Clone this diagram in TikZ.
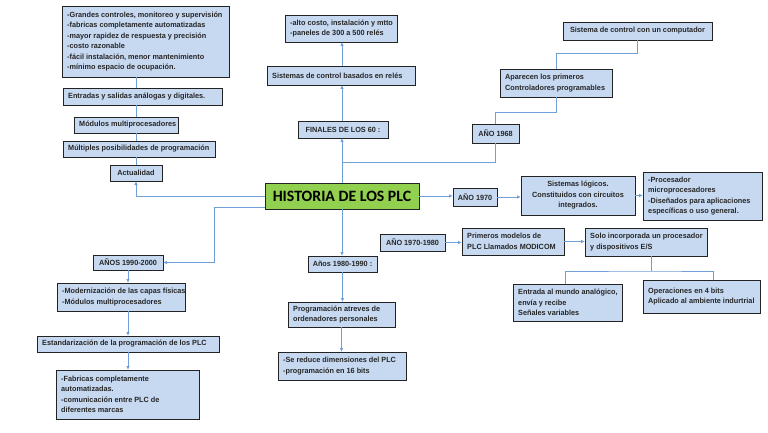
\documentclass[tikz,border=0pt]{standalone}
\usepackage{fontspec}
\setmainfont{Liberation Sans}[FakeStretch=0.97]
\newfontfamily\titlefont{Carlito}
\usetikzlibrary{arrows.meta}
\definecolor{boxfill}{RGB}{198,217,241}
\definecolor{boxline}{RGB}{35,35,35}
\definecolor{greenfill}{RGB}{146,208,80}
\definecolor{conn}{RGB}{112,160,215}
\tikzset{
 box/.style={draw=boxline, fill=boxfill, line width=0.9pt, inner sep=0pt, outer sep=0pt},
 txt/.style={font=\bfseries\fontsize{7.5}{10.5}\selectfont, inner sep=0pt, text=black!85},
 link/.style={draw=conn, line width=0.8pt},
 arr/.style={link, -{Latex[length=4pt,width=3.5pt]}},
}
\newcommand\mkbox[5]{\node[box,minimum width={#4-#2},minimum height={#5-#3}] (#1) at ({(#2+#4)/2},{(#3+#5)/2}) {};}
\newcommand\ltext[2]{\node[txt,anchor=west,align=left] (#1t) at ([xshift=5pt]#1.west) {#2};}
\newcommand\ctext[2]{\node[txt,align=center] (#1t) at (#1.center) {#2};}
\begin{document}
\begin{tikzpicture}[x=1pt,y=-1pt]
\fill[white] (0,0) rectangle (768,433);
\useasboundingbox (0,0) rectangle (768,433);
% left column
\mkbox{b1}{62}{6}{229}{77}
\ltext{b1}{-Grandes controles, monitoreo y supervisión\\-fabricas completamente automatizadas\\-mayor rapidez de respuesta y precisión\\-costo razonable\\-fácil instalación, menor mantenimiento\\-mínimo espacio de ocupación.}
\mkbox{ent}{63}{88}{222}{105}
\ltext{ent}{Entradas y salidas análogas y digitales.}
\mkbox{mod}{74}{117}{178}{133}
\ltext{mod}{Módulos multiprocesadores}
\mkbox{mult}{63}{141}{215}{157}
\ltext{mult}{Múltiples posibilidades de programación}
\mkbox{act}{110}{165}{162}{181}
\ctext{act}{Actualidad}
\mkbox{a90}{93}{255}{163}{270}
\ctext{a90}{AÑOS 1990-2000}
\mkbox{modz}{57}{283}{185}{311}
\ltext{modz}{-Modernización de las capas físicas\\-Módulos multiprocesadores}
\mkbox{est}{37}{336}{219}{352}
\ltext{est}{Estandarización de la programación de los PLC}
\mkbox{fab}{56}{370}{199}{419}
\ltext{fab}{-Fabricas completamente\\automatizadas.\\-comunicación entre PLC de\\diferentes marcas}
% center column
\mkbox{alto}{285}{15}{397}{42}
\ltext{alto}{-alto costo, instalación y mtto\\-paneles de 300 a 500 relés}
\mkbox{rel}{267}{66}{415}{85}
\ltext{rel}{Sistemas de control basados en relés}
\mkbox{fin}{298}{121}{388}{138}
\ctext{fin}{FINALES DE LOS 60 :}
\node[box, fill=greenfill, minimum width=154, minimum height=26,
  font=\titlefont\bfseries\fontsize{15.8}{18}\selectfont] (hist) at (342,196) {HISTORIA DE LOS PLC};
\mkbox{a8090}{308}{256}{377}{272}
\ctext{a8090}{Años 1980-1990 :}
\mkbox{prog}{288}{302}{395}{327}
\ltext{prog}{Programación atreves de\\ordenadores personales}
\mkbox{sered}{278}{352}{406}{380}
\ltext{sered}{-Se reduce dimensiones del PLC\\-programación en 16 bits}
% right
\mkbox{comp}{563}{22}{712}{40}
\ctext{comp}{Sistema de control con un computador}
\mkbox{apa}{500}{69}{612}{97}
\ltext{apa}{Aparecen los primeros\\Controladores programables}
\mkbox{a68}{472}{124}{519}{143}
\ctext{a68}{AÑO 1968}
\mkbox{a70}{453}{188}{497}{206}
\ctext{a70}{AÑO 1970}
\mkbox{slog}{521}{176}{635}{215}
\ctext{slog}{Sistemas lógicos.\\Constituidos con circuitos\\integrados.}
\mkbox{proc}{643}{172}{762}{220}
\ltext{proc}{-Procesador\\microprocesadores\\-Diseñados para aplicaciones\\específicas o uso general.}
\mkbox{a7080}{380}{234}{445}{251}
\ctext{a7080}{AÑO 1970-1980}
\mkbox{prim}{462}{228}{564}{255}
\ltext{prim}{Primeros modelos de\\PLC Llamados MODICOM}
\mkbox{solo}{585}{228}{707}{256}
\ltext{solo}{Solo incorporada un procesador\\y dispositivos E/S}
\mkbox{ent2}{513}{284}{622}{321}
\ltext{ent2}{Entrada al mundo analógico,\\envía y recibe\\Señales variables}
\mkbox{oper}{643}{280}{760}{313}
\ltext{oper}{Operaciones en 4 bits\\Aplicado al ambiente indurtrial}
% connectors: top center
\draw[arr] (hist.north) -- (hist.north |- fin.south);
\draw[arr] (hist.north |- fin.north) -- (hist.north |- rel.south);
\draw[arr] (hist.north |- rel.north) -- (hist.north |- alto.south);
\coordinate (j68) at (342,162);
\draw[link] (j68) -| (a68.south);
\draw[link] (a68.north) -- ++(0,-12) -| (apa.south);
\draw[link] (apa.north) -- ++(0,-16) -| (comp.south);
% left
\draw[arr] (hist.west) -| (act.south);
\draw[link] (act.north) -- (act.north |- mult.south);
\draw[link] (act.north |- mult.north) -- (act.north |- mod.south);
\draw[link] (act.north |- mod.north) -- (act.north |- ent.south);
\draw[link] (act.north |- ent.north) -- (act.north |- b1.south);
\draw[arr] ([yshift=2pt]hist.south west) -- ++(-51,0) |- (a90.east);
\draw[arr] (a90.south) -- (a90.south |- modz.north);
\draw[arr] (a90.south |- modz.south) -- (a90.south |- est.north);
\draw[arr] (a90.south |- est.south) -- (a90.south |- fab.north);
% right
\draw[arr] (hist.east) -- (hist.east -| a70.west);
\draw[arr] (a70.east) -- (a70.east -| slog.west);
\draw[arr] (slog.east) -- (slog.east -| proc.west);
\draw[arr] (a7080.east) -- (a7080.east -| prim.west);
\draw[arr] (prim.east) -- (prim.east -| solo.west);
\coordinate (sj) at (651,271);
\draw[link] ([xshift=5pt]solo.south) -- (sj);
\draw[link] ([xshift=-2.5pt]ent2.north) |- (sj) -| ([xshift=11.5pt]oper.north);
% bottom center
\draw[arr] (hist.south) -- (hist.south |- a8090.north);
\draw[arr] (a8090.south) -- (a8090.south |- prog.north);
\draw[arr] (prog.south) -- (prog.south |- sered.north);
\end{tikzpicture}
\end{document}
